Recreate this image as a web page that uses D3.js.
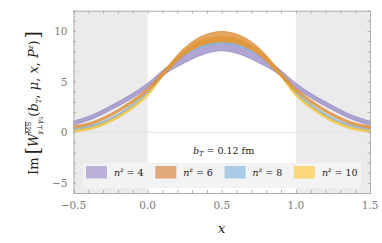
<!DOCTYPE html>
<html>
<head>
<meta charset="utf-8">
<script src="https://cdn.jsdelivr.net/npm/d3@7"></script>
<style>
  body { margin: 0; background: #fff; }
  svg { display: block; }
</style>
</head>
<body>
<svg id="chart" width="382" height="243"></svg>
<script>
// x grid for the bands
const xs = [-0.5, -0.375, -0.25, -0.125, 0, 0.125, 0.25, 0.375, 0.5, 0.625, 0.75, 0.875, 1, 1.125, 1.25, 1.375, 1.5];

const nz = [4, 6, 8, 10];
const centro4 = [0.9, 1.5, 2.4, 3.4, 4.6, 6.1, 7.2, 8.1, 8.5, 8.1, 7.2, 6.1, 4.6, 3.4, 2.4, 1.5, 0.9];
const centro6 = [0.5, 0.9, 1.7, 2.8, 4.2, 6.1, 8.0, 9.1, 9.45, 9.1, 8.0, 6.1, 4.2, 2.8, 1.7, 0.9, 0.5];
const centro8 = [0.25, 0.6, 1.3, 2.4, 3.9, 6.1, 7.8, 8.7, 9.0, 8.7, 7.8, 6.1, 3.9, 2.4, 1.3, 0.6, 0.25];
const centro10 = [0.1, 0.4, 1.1, 2.2, 3.7, 6.1, 7.9, 8.9, 9.2, 8.9, 7.9, 6.1, 3.7, 2.2, 1.1, 0.4, 0.1];

const erro4 = [0.2, 0.2, 0.21, 0.22, 0.24, 0.28, 0.34, 0.42, 0.45, 0.42, 0.34, 0.28, 0.24, 0.22, 0.21, 0.2, 0.2];
const erro6 = [0.11, 0.11, 0.12, 0.14, 0.17, 0.24, 0.35, 0.45, 0.5, 0.45, 0.35, 0.24, 0.17, 0.14, 0.12, 0.11, 0.11];
const erro8 = [0.09, 0.09, 0.1, 0.11, 0.13, 0.16, 0.2, 0.25, 0.27, 0.25, 0.2, 0.16, 0.13, 0.11, 0.1, 0.09, 0.09];
const erro10 = [0.09, 0.09, 0.1, 0.11, 0.13, 0.16, 0.2, 0.25, 0.27, 0.25, 0.2, 0.16, 0.13, 0.11, 0.1, 0.09, 0.09];

const xTicks = [-0.5, 0, 0.5, 1, 1.5];
const xTickLabels = ["\u22120.5", "0.0", "0.5", "1.0", "1.5"];
const yTicks = [-5, 0, 5, 10];
const yTickLabels = ["\u22125", "0", "5", "10"];

const coresBanda = ["#9c8fc8", "#dd8f3a", "#82b3d8", "#f3c43a"];
const coresLegenda = ["#bdb1d9", "#dfa97b", "#a9cbe3", "#fad77c"];

const series = [
  { n: 4, centro: centro4, erro: erro4, cor: coresBanda[0] },
  { n: 6, centro: centro6, erro: erro6, cor: coresBanda[1] },
  { n: 8, centro: centro8, erro: erro8, cor: coresBanda[2] },
  { n: 10, centro: centro10, erro: erro10, cor: coresBanda[3] },
];

const fonte = "'DejaVu Serif', 'Liberation Serif', serif";

const margin = { top: 10.7, right: 12, bottom: 50, left: 73.5 };
const W = 382, H = 243;
const plotW = W - margin.left - margin.right;
const plotH = H - margin.top - margin.bottom;

const x = d3.scaleLinear().domain([-0.5, 1.5]).range([0, plotW]);
const y = d3.scaleLinear().domain([-6, 12]).range([plotH, 0]);

const svg = d3.select("#chart").attr("font-family", fonte);
const g = svg.append("g").attr("transform", `translate(${margin.left},${margin.top})`);

// faixas cinzas fora de [0, 1]
g.append("rect").attr("x", x(-0.5)).attr("y", 0).attr("width", x(0) - x(-0.5)).attr("height", plotH).attr("fill", "#ebebeb");
g.append("rect").attr("x", x(1)).attr("y", 0).attr("width", x(1.5) - x(1)).attr("height", plotH).attr("fill", "#ebebeb");

// linha do zero
g.append("line").attr("x1", 0).attr("x2", plotW).attr("y1", y(0)).attr("y2", y(0))
  .attr("stroke", "#e2e2e2").attr("stroke-width", 1);

const area = d3.area()
  .x((d) => x(d.x))
  .y0((d) => y(d.c - d.e))
  .y1((d) => y(d.c + d.e))
  .curve(d3.curveCatmullRom);

const ordem = [0, 2, 3, 1];
ordem.forEach((i) => {
  const s = series[i];
  const dados = xs.map((xv, k) => ({ x: xv, c: s.centro[k], e: s.erro[k] }));
  g.append("path")
    .datum(dados)
    .attr("d", area)
    .attr("fill", s.cor)
    .attr("fill-opacity", 0.8)
    .attr("stroke", s.cor)
    .attr("stroke-width", 0.8);
});

// moldura com ticks para dentro
const corEixo = "#b0b0b0";
const minorX = d3.range(-0.5, 1.5001, 0.1);
const minorY = d3.range(-6, 12.001, 1);

g.append("g")
  .attr("transform", `translate(0,${plotH})`)
  .call(d3.axisBottom(x).tickValues(minorX).tickSize(-3).tickFormat(""))
  .call((sel) => sel.selectAll("line,.domain").attr("stroke", corEixo));
g.append("g")
  .call(d3.axisTop(x).tickValues(minorX).tickSize(-3).tickFormat(""))
  .call((sel) => sel.selectAll("line,.domain").attr("stroke", corEixo));
g.append("g")
  .call(d3.axisLeft(y).tickValues(minorY).tickSize(-2.5).tickFormat(""))
  .call((sel) => sel.selectAll("line,.domain").attr("stroke", corEixo));
g.append("g")
  .attr("transform", `translate(${plotW},0)`)
  .call(d3.axisRight(y).tickValues(minorY).tickSize(-2.5).tickFormat(""))
  .call((sel) => sel.selectAll("line,.domain").attr("stroke", corEixo));

// rótulos dos ticks
g.selectAll("text.tx")
  .data(xTicks)
  .join("text")
  .attr("class", "tx")
  .attr("x", (d) => x(d))
  .attr("y", plotH + 16)
  .attr("text-anchor", "middle")
  .attr("fill", "#7a7a7a")
  .attr("font-size", "10.5px")
  .text((d, i) => xTickLabels[i]);

g.selectAll("text.ty")
  .data(yTicks)
  .join("text")
  .attr("class", "ty")
  .attr("x", -6)
  .attr("y", (d) => y(d) + 4)
  .attr("text-anchor", "end")
  .attr("fill", "#7a7a7a")
  .attr("font-size", "10.5px")
  .text((d, i) => yTickLabels[i]);

// título do eixo x
svg.append("text")
  .attr("x", margin.left + x(0.5))
  .attr("y", 233)
  .attr("text-anchor", "middle")
  .attr("font-size", "13px")
  .attr("font-style", "italic")
  .attr("fill", "#222")
  .text("x");

// título do eixo y
const ty = svg.append("text")
  .attr("transform", "translate(38,103) rotate(-90)")
  .attr("text-anchor", "middle")
  .attr("font-size", "13px")
  .attr("fill", "#222");
ty.append("tspan").text("Im");
ty.append("tspan").attr("font-size", "19px").attr("dx", 3).attr("dy", 1).text("[");
ty.append("tspan").attr("font-style", "italic").attr("dy", -1).text("W");
ty.append("tspan").attr("font-size", "7px").attr("dy", -7).attr("text-decoration", "overline").text("MS");
ty.append("tspan").attr("font-size", "7px").attr("font-style", "italic").attr("dx", -13).attr("dy", 11).text("\u03b3\u22a5\u03b3");
ty.append("tspan").attr("font-size", "5px").attr("dy", 1).text("5");
ty.append("tspan").attr("dy", -5).text("(");
ty.append("tspan").attr("font-style", "italic").text("b");
ty.append("tspan").attr("font-style", "italic").attr("font-size", "7px").attr("dy", 3).text("T");
ty.append("tspan").attr("dy", -3).text(", ");
ty.append("tspan").attr("font-style", "italic").text("\u03bc");
ty.append("tspan").text(", ");
ty.append("tspan").attr("font-style", "italic").text("x");
ty.append("tspan").text(", ");
ty.append("tspan").attr("font-style", "italic").text("P");
ty.append("tspan").attr("font-style", "italic").attr("font-size", "7px").attr("dy", -5).text("z");
ty.append("tspan").attr("dy", 5).text(")");
ty.append("tspan").attr("font-size", "19px").attr("dx", 2).attr("dy", 1).text("]");

// anotação b_T
const anot = svg.append("text")
  .attr("x", 193)
  .attr("y", 154)
  .attr("font-size", "9.5px")
  .attr("fill", "#222");
anot.append("tspan").attr("font-style", "italic").text("b");
anot.append("tspan").attr("font-style", "italic").attr("font-size", "6.5px").attr("dy", 2).text("T");
anot.append("tspan").attr("dy", -2).text(" = 0.12 fm");

// legenda
const leg = svg.append("g");
leg.append("rect").attr("x", 83).attr("y", 163).attr("width", 278).attr("height", 25).attr("fill", "#f3f3f3");
const passo = 69.3;
nz.forEach((n, i) => {
  const x0 = 86 + i * passo;
  leg.append("rect").attr("x", x0).attr("y", 166).attr("width", 21).attr("height", 12.5).attr("fill", coresLegenda[i]);
  const t = leg.append("text").attr("x", x0 + 28).attr("y", 176).attr("font-size", "9.5px").attr("fill", "#222");
  t.append("tspan").attr("font-style", "italic").text("n");
  t.append("tspan").attr("font-style", "italic").attr("font-size", "6.5px").attr("dy", -4).text("z");
  t.append("tspan").attr("dy", 4).text(" = " + n);
});
</script>
</body>
</html>
